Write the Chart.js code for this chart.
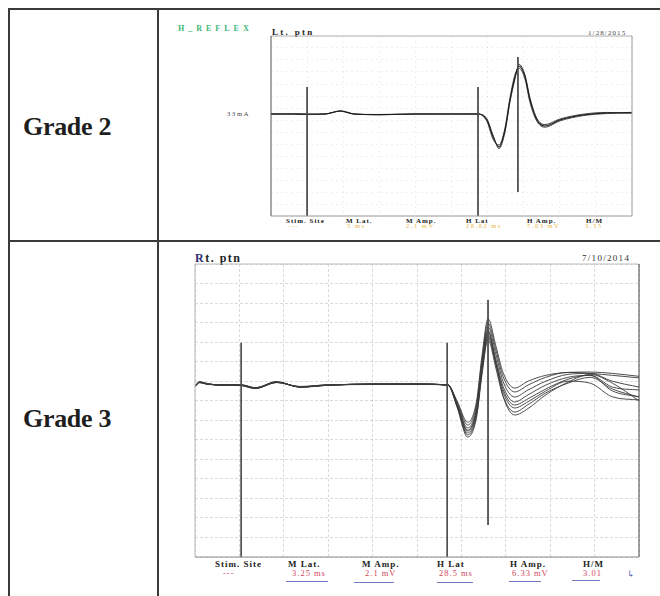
<!DOCTYPE html>
<html>
<head>
<meta charset="utf-8">
<script src="https://cdn.jsdelivr.net/npm/chart.js@4.4.1/dist/chart.umd.min.js"></script>
<style>
  body { margin: 0; background: #fff; }
  #page { position: relative; width: 660px; height: 596px; overflow: hidden;
          font-family: "Liberation Serif", "DejaVu Serif", serif; color: #222; }
  .rule { position: absolute; background: #3a3a3a; }
  .grade { position: absolute; font-weight: bold; font-size: 26px; letter-spacing: -0.3px; line-height: 1; color: #1e1e1e; }
  .t { position: absolute; white-space: nowrap; line-height: 1; }
  .plot { position: absolute; }
  .b { font-weight: bold; }
  .pen { position: absolute; height: 1px; background: #4a58b0; opacity: 0.8; }
</style>
</head>
<body>
<div id="page">
  <!-- table rules -->
  <div class="rule" style="left:8px; top:8px; width:652px; height:1.5px;"></div>
  <div class="rule" style="left:8px; top:240px; width:652px; height:1.5px;"></div>
  <div class="rule" style="left:8px; top:8px; width:1.5px; height:588px;"></div>
  <div class="rule" style="left:157px; top:8px; width:1.5px; height:588px;"></div>

  <div class="grade" style="left:23px; top:114px;">Grade 2</div>
  <div class="grade" style="left:23px; top:406px;">Grade 3</div>

  <!-- Grade 2 recording texts -->
  <div class="t b" style="left:178px; top:25px; font-size:8px; letter-spacing:4px; color:#3cb878;">H_REFLEX</div>
  <div class="t b" style="left:272px; top:28px; font-size:9px; letter-spacing:2.3px;">Lt. ptn</div>
  <div class="t" style="left:588px; top:30px; font-size:7px; letter-spacing:1.1px; color:#444;">1/28/2015</div>
  <div class="t" style="left:227px; top:111px; font-size:6.5px; letter-spacing:1.7px; color:#444;">33mA</div>

  <div class="t b" style="left:286px; top:218px; font-size:7px; letter-spacing:1px;">Stim. Site</div>
  <div class="t b" style="left:346px; top:218px; font-size:7px; letter-spacing:1px;">M Lat.</div>
  <div class="t b" style="left:406px; top:218px; font-size:7px; letter-spacing:1px;">M Amp.</div>
  <div class="t b" style="left:466px; top:218px; font-size:7px; letter-spacing:1px;">H Lat</div>
  <div class="t b" style="left:527px; top:218px; font-size:7px; letter-spacing:1px;">H Amp.</div>
  <div class="t b" style="left:586px; top:218px; font-size:7px; letter-spacing:1px;">H/M</div>
  <div class="t" style="left:288px; top:223px; font-size:6.5px; letter-spacing:1.5px; color:#e8b84a;">---</div>
  <div class="t" style="left:347px; top:223px; font-size:6.5px; letter-spacing:1.5px; color:#e8b84a;">5 ms</div>
  <div class="t" style="left:406px; top:223px; font-size:6.5px; letter-spacing:1.5px; color:#e8b84a;">2.1 mV</div>
  <div class="t" style="left:466px; top:223px; font-size:6.5px; letter-spacing:1.5px; color:#e8b84a;">28.62 ms</div>
  <div class="t" style="left:527px; top:223px; font-size:6.5px; letter-spacing:1.5px; color:#e8b84a;">7.03 mV</div>
  <div class="t" style="left:585px; top:223px; font-size:6.5px; letter-spacing:1.5px; color:#e8b84a;">3.35</div>

  <!-- Grade 3 recording texts -->
  <div class="t b" style="left:195px; top:252px; font-size:12px; letter-spacing:1.5px;"><span style="color:#2c2c70;">R</span>t. ptn</div>
  <div class="t" style="left:582px; top:254px; font-size:9px; letter-spacing:1.3px; color:#333;">7/10/2014</div>

  <div class="t b" style="left:215px; top:560px; font-size:9px; letter-spacing:1px;">Stim. Site</div>
  <div class="t b" style="left:288px; top:560px; font-size:9px; letter-spacing:1px;">M Lat.</div>
  <div class="t b" style="left:362px; top:560px; font-size:9px; letter-spacing:1px;">M Amp.</div>
  <div class="t b" style="left:437px; top:560px; font-size:9px; letter-spacing:1px;">H Lat</div>
  <div class="t b" style="left:510px; top:560px; font-size:9px; letter-spacing:1px;">H Amp.</div>
  <div class="t b" style="left:583px; top:560px; font-size:9px; letter-spacing:1px;">H/M</div>
  <div class="t" style="left:223px; top:569px; font-size:8.5px; letter-spacing:1px; color:#d0465c;">---</div>
  <div class="t" style="left:292px; top:569px; font-size:8.5px; letter-spacing:1px; color:#d0465c;">3.25 ms</div>
  <div class="t" style="left:365px; top:569px; font-size:8.5px; letter-spacing:1px; color:#d0465c;">2.1 mV</div>
  <div class="t" style="left:439px; top:569px; font-size:8.5px; letter-spacing:1px; color:#d0465c;">28.5 ms</div>
  <div class="t" style="left:512px; top:569px; font-size:8.5px; letter-spacing:1px; color:#d0465c;">6.33 mV</div>
  <div class="t" style="left:583px; top:569px; font-size:8.5px; letter-spacing:1px; color:#d0465c;">3.01</div>
  <div class="pen" style="left:286px; top:581px; width:42px;"></div>
  <div class="pen" style="left:354px; top:582px; width:40px;"></div>
  <div class="pen" style="left:437px; top:582px; width:36px;"></div>
  <div class="pen" style="left:509px; top:581px; width:32px;"></div>
  <div class="pen" style="left:572px; top:580px; width:28px;"></div>
  <div class="t" style="left:627px; top:570px; font-size:9px; color:#4a58b0;">&#8627;</div>

  <div class="plot" style="left:269px; top:34px; width:365px; height:184px;"><canvas id="g2"></canvas></div>
  <div class="plot" style="left:193px; top:262px; width:448px; height:297px;"><canvas id="g3"></canvas></div>
</div>

<script>
// time axis in ms (10 divisions of 5 ms), amplitude in screen divisions (0-15)
const sweepMs = 50;
const sweepDivs = 15;

// Grade 2 recording (Lt. ptn, 1/28/2015)
const g2Times = [0, 3, 5, 7.5, 9.6, 11.5, 15, 20, 25, 28.67, 29.9, 30.75, 31.58, 32.41, 33.1, 33.8, 34.35, 35.18, 35.87, 36.84, 37.95, 40.0, 43.2, 46.5, 50];
const g2TraceA = [8.5, 8.5, 8.48, 8.5, 8.75, 8.5, 8.45, 8.5, 8.5, 8.5, 8.0, 6.6, 5.75, 7.17, 9.67, 11.6, 12.5, 11.6, 9.67, 8.0, 7.5, 8.0, 8.42, 8.58, 8.6];
const g2TraceB = [8.51, 8.5, 8.49, 8.51, 8.73, 8.49, 8.46, 8.51, 8.5, 8.51, 7.88, 6.4, 5.92, 7.35, 9.85, 11.8, 12.32, 11.4, 9.45, 7.88, 7.4, 7.92, 8.36, 8.54, 8.64];
const g2TraceC = [8.49, 8.51, 8.48, 8.49, 8.77, 8.51, 8.44, 8.49, 8.5, 8.49, 8.1, 6.75, 5.62, 7.0, 9.5, 11.45, 12.64, 11.75, 9.85, 8.12, 7.62, 8.08, 8.48, 8.63, 8.57];
const g2Markers = [5, 28.67, 34.2];
const g2MarkerTop = [10.75, 10.75, 13.25];
const g2MarkerBottom = [0, 0, 2.0];

// Grade 3 recording (Rt. ptn, 7/10/2014)
const g3Times = [0, 0.5, 1.5, 3, 5.2, 6.8, 9.2, 11.8, 15, 20, 25, 28.5, 29.5, 30.7, 31.7, 32.3, 33.0, 33.9, 34.7, 36.0, 37.5, 39.5, 42, 44.5, 47, 50];
const g3Trace1 = [8.75, 8.95, 8.85, 8.8, 8.8, 8.65, 8.96, 8.7, 8.8, 8.85, 8.85, 8.8, 8.0, 6.9, 7.96, 10.23, 12.19, 10.77, 9.43, 8.65, 9.0, 9.3, 9.45, 9.47, 9.4, 9.25];
const g3Trace2 = [8.73, 8.93, 8.83, 8.82, 8.78, 8.62, 8.94, 8.72, 8.82, 8.83, 8.86, 8.79, 7.94, 6.76, 7.80, 10.05, 11.98, 10.57, 9.23, 8.45, 8.8, 9.2, 9.45, 9.4, 9.3, 9.17];
const g3Trace3 = [8.76, 8.96, 8.86, 8.79, 8.81, 8.67, 8.98, 8.69, 8.79, 8.86, 8.84, 8.81, 7.88, 6.61, 7.64, 9.87, 11.78, 10.34, 8.98, 8.19, 8.55, 9.0, 9.35, 9.4, 9.0, 8.7];
const g3Trace4 = [8.74, 8.94, 8.84, 8.81, 8.79, 8.63, 8.95, 8.71, 8.81, 8.84, 8.85, 8.8, 7.83, 6.5, 7.5, 9.66, 11.52, 10.09, 8.73, 7.94, 8.3, 8.8, 9.2, 9.3, 8.7, 8.55];
const g3Trace5 = [8.77, 8.97, 8.87, 8.8, 8.82, 8.66, 8.97, 8.7, 8.8, 8.85, 8.83, 8.82, 7.77, 6.35, 7.35, 9.51, 11.37, 9.93, 8.57, 7.78, 8.1, 8.6, 9.1, 9.3, 8.5, 8.2];
const g3Trace6 = [8.72, 8.92, 8.84, 8.82, 8.78, 8.64, 8.93, 8.73, 8.81, 8.84, 8.86, 8.78, 7.73, 6.25, 7.25, 9.41, 11.26, 9.81, 8.43, 7.63, 7.95, 8.5, 9.0, 8.9, 8.2, 8.04];
const g3Trace7 = [8.75, 8.94, 8.86, 8.8, 8.8, 8.66, 8.95, 8.71, 8.79, 8.85, 8.84, 8.8, 7.68, 6.14, 7.13, 9.27, 11.11, 9.63, 8.23, 7.42, 7.8, 8.4, 8.9, 9.2, 8.6, 8.19];
const g3Trace8 = [8.76, 8.95, 8.85, 8.81, 8.79, 8.65, 8.96, 8.7, 8.8, 8.86, 8.85, 8.81, 7.81, 6.45, 7.48, 9.69, 11.6, 9.87, 8.22, 7.27, 7.6, 8.3, 8.95, 9.35, 8.9, 8.0];
const g3Markers = [5.2, 28.4, 33.0];
const g3MarkerTop = [10.96, 10.96, 13.16];
const g3MarkerBottom = [0, 0, 1.64];

function toPoints(times, values) {
  return times.map((t, i) => ({ x: t, y: values[i] }));
}

function traceSet(times, values, color, width) {
  return {
    data: toPoints(times, values),
    borderColor: color,
    borderWidth: width,
    pointRadius: 0,
    cubicInterpolationMode: 'monotone',
    fill: false
  };
}

function markerSets(times, tops, bottoms) {
  return times.map((t, i) => ({
    data: [{ x: t, y: tops[i] }, { x: t, y: bottoms[i] }],
    borderColor: '#4a4a4a',
    borderWidth: 1,
    pointRadius: 0,
    fill: false
  }));
}

// frame around the plotting area, each side in its own colour
function framePlugin(sides) {
  return {
    id: 'frame',
    afterDatasetsDraw(chart) {
      const a = chart.chartArea;
      const ctx = chart.ctx;
      const edges = {
        top: [a.left, a.top, a.right, a.top],
        right: [a.right, a.top, a.right, a.bottom],
        bottom: [a.left, a.bottom, a.right, a.bottom],
        left: [a.left, a.top, a.left, a.bottom]
      };
      ctx.save();
      Object.keys(sides).forEach(k => {
        const e = edges[k];
        ctx.strokeStyle = sides[k];
        ctx.lineWidth = 1;
        ctx.beginPath();
        ctx.moveTo(e[0], e[1]);
        ctx.lineTo(e[2], e[3]);
        ctx.stroke();
      });
      ctx.restore();
    }
  };
}

function scopeOptions(gridColor, dash) {
  return {
    responsive: true,
    maintainAspectRatio: false,
    animation: false,
    events: [],
    layout: { padding: 2 },
    plugins: { legend: { display: false }, tooltip: { enabled: false } },
    scales: {
      x: {
        type: 'linear', min: 0, max: sweepMs,
        ticks: { display: false, stepSize: 5 },
        grid: { color: gridColor, drawTicks: false, lineWidth: 1 },
        border: { display: false, dash: dash }
      },
      y: {
        type: 'linear', min: 0, max: sweepDivs,
        ticks: { display: false, stepSize: 1 },
        grid: { color: gridColor, drawTicks: false, lineWidth: 1 },
        border: { display: false, dash: dash }
      }
    }
  };
}

new Chart(document.getElementById('g2'), {
  type: 'line',
  data: {
    datasets: [
      ...markerSets(g2Markers, g2MarkerTop, g2MarkerBottom),
      traceSet(g2Times, g2TraceA, '#1c1c1c', 1.1),
      traceSet(g2Times, g2TraceB, '#3a3a3a', 0.9),
      traceSet(g2Times, g2TraceC, '#2a2a2a', 0.9)
    ]
  },
  options: scopeOptions('rgba(0,0,0,0.06)', [2, 3]),
  plugins: [framePlugin({ top: '#b0b0b0', right: '#9a9a9a', bottom: '#9a9a9a', left: '#555555' })]
});

new Chart(document.getElementById('g3'), {
  type: 'line',
  data: {
    datasets: [
      ...markerSets(g3Markers, g3MarkerTop, g3MarkerBottom),
      traceSet(g3Times, g3Trace1, '#3a3a3a', 0.9),
      traceSet(g3Times, g3Trace2, '#3a3a3a', 0.9),
      traceSet(g3Times, g3Trace3, '#3a3a3a', 0.9),
      traceSet(g3Times, g3Trace4, '#3a3a3a', 0.9),
      traceSet(g3Times, g3Trace5, '#3a3a3a', 0.9),
      traceSet(g3Times, g3Trace6, '#3a3a3a', 0.9),
      traceSet(g3Times, g3Trace7, '#3a3a3a', 0.9),
      traceSet(g3Times, g3Trace8, '#3a3a3a', 0.9)
    ]
  },
  options: scopeOptions('rgba(0,0,0,0.14)', [3, 2]),
  plugins: [framePlugin({ top: '#bdbdbd', right: '#444444', bottom: '#8a8a8a', left: '#b5b5b5' })]
});
</script>
</body>
</html>
